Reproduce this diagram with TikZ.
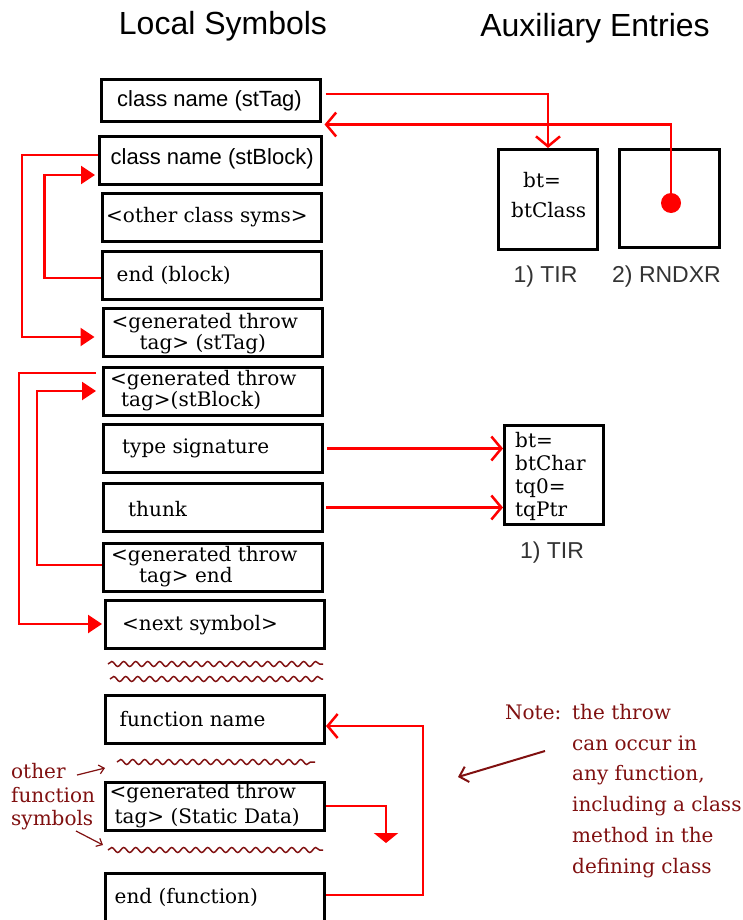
\documentclass[tikz,border=0pt]{standalone}
\usepackage{fontspec}
\setmainfont{DejaVu Serif}
\setsansfont{Liberation Sans}
\usetikzlibrary{arrows.meta,decorations.pathmorphing}

\definecolor{linkred}{RGB}{255,0,0}
\definecolor{notered}{RGB}{128,16,16}

\tikzset{
  symbox/.style={draw, line width=3pt, minimum width=219pt, minimum height=48pt, inner sep=0pt},
  auxbox/.style={draw, line width=3pt, minimum width=99pt, minimum height=99pt, inner sep=0pt},
  symtext/.style={anchor=west, inner sep=0pt, align=left, font=\fontsize{20}{21}\selectfont},
  sanstext/.style={anchor=west, inner sep=0pt, font=\sffamily\fontsize{22}{24}\selectfont},
  auxlabel/.style={inner sep=0pt, text=black!80, font=\sffamily\fontsize{23}{26}\selectfont},
  heading/.style={inner sep=0pt, font=\sffamily\fontsize{32}{36}\selectfont},
  redlink/.style={draw=linkred, line width=2.5pt},
  backlink/.style={redlink, -{Triangle[length=14pt,width=18pt]}},
  ptrlink/.style={redlink, -{Straight Barb[length=10pt,width=24pt]}},
  annot/.style={inner sep=0pt, align=left, text=notered, font=\fontsize{20}{23.5}\selectfont},
  squiggle/.style={draw=notered, line width=1.5pt, decorate,
    decoration={snake, segment length=12pt, amplitude=2.5pt}},
}

\begin{document}
\begin{tikzpicture}[x=1pt,y=-1pt]
  \useasboundingbox (0,0) rectangle (743,920);

  \node[heading] (loc) at (223,26) {Local Symbols};
  \node[heading] (aux) at (595,28) {Auxiliary Entries};

  % local symbol table
  \node[symbox, minimum height=42pt] (tag) at (210.5,100.5) {};
  \node[symbox, minimum width=222pt] (blk) at (210.5,160.5) {};
  \node[symbox] (other) at (211.5,217.5) {};
  \node[symbox] (endblk) at (211.5,275.5) {};
  \node[symbox] (gtag) at (212.5,332.5) {};
  \node[symbox] (gblk) at (213,391) {};
  \node[symbox] (sig) at (213,448.5) {};
  \node[symbox] (thunk) at (213,507.5) {};
  \node[symbox] (gend) at (213,567) {};
  \node[symbox] (next) at (214.5,624) {};
  \node[symbox] (fname) at (215,719) {};
  \node[symbox] (gdata) at (215,806) {};
  \node[symbox] (endfn) at (215,897.5) {};

  \node[sanstext] (tagtxt) at ([xshift=17.5pt]tag.west) {class name (stTag)};
  \node[sanstext] (blktxt) at ([xshift=12.5pt,yshift=2pt]blk.west) {class name (stBlock)};
  \node[symtext] (othertxt) at ([xshift=5.5pt]other.west) {<other class syms>};
  \node[symtext] (endblktxt) at ([xshift=16pt]endblk.west) {end (block)};
  \node[symtext] (gtagtxt) at ([xshift=10pt,yshift=-1pt]gtag.west) {<generated throw\\\hspace*{28pt}tag> (stTag)};
  \node[symtext] (gblktxt) at ([xshift=8pt]gblk.west) {<generated throw\\\hspace*{11pt}tag>(stBlock)};
  \node[symtext] (sigtxt) at ([xshift=20pt]sig.west) {type signature};
  \node[symtext] (thunktxt) at ([xshift=26pt,yshift=-1.5pt]thunk.west) {thunk};
  \node[symtext] (gendtxt) at ([xshift=9pt]gend.west) {<generated throw\\\hspace*{28pt}tag> end};
  \node[symtext] (nexttxt) at ([xshift=18.5pt,yshift=-1pt]next.west) {<next symbol>};
  \node[symtext] (fnametxt) at ([xshift=15.5pt]fname.west) {function name};
  \node[symtext, font=\fontsize{20}{25}\selectfont] (gdatatxt) at ([xshift=5.5pt]gdata.west) {<generated throw\\\hspace*{5pt}tag> (Static Data)};
  \node[symtext] (endfntxt) at ([xshift=10.5pt]endfn.west) {end (function)};

  % auxiliary entries
  \node[auxbox, minimum height=100pt] (tir) at (548,199.5) {};
  \node[auxbox, minimum width=100pt, minimum height=98pt] (rndx) at (669.5,198.5) {};
  \node[symtext, font=\fontsize{20}{30}\selectfont] (tirtxt) at (511,195) {\hspace*{12pt}bt=\\btClass};
  \node[circle, fill=linkred, minimum size=20pt, inner sep=0pt] (dot) at (671,203) {};
  \node[auxlabel] (tirlbl) at (545.5,277) {1) TIR};
  \node[auxlabel] (rndxlbl) at (666.5,277) {2) RNDXR};

  \node[auxbox] (tir2) at (554,475) {};
  \node[symtext, font=\fontsize{20}{23}\selectfont] (tir2txt) at (515,476) {bt=\\btChar\\tq0=\\tqPtr};
  \node[auxlabel] (tir2lbl) at (552,553) {1) TIR};

  % pointers out to the aux table and back
  \draw[ptrlink, shorten <=4pt] ([yshift=6.5pt]tag.east) -| (tir.north);
  \draw[ptrlink] (dot.center) |- ([shift={(3,1.5)}]tag.south east);
  \draw[ptrlink, shorten <=3pt] (sig.east) -- (sig.east -| tir2.west);
  \draw[ptrlink, shorten <=2pt] (thunk.east) -- (thunk.east -| tir2.west);

  % block start/end links
  \draw[backlink, shorten >=7pt] ([yshift=5.5pt]blk.west) -- ++(-76,0) |- ([yshift=-4.5pt]gtag.west);
  \draw[backlink, shorten >=3pt] ([yshift=-2.5pt]endblk.west) -- ++(-56,0) |- ([yshift=-14.5pt]blk.west);
  \draw[backlink, shorten <=6pt, shorten >=1.5pt] ([yshift=18pt]gblk.west) -- ++(-83,0) |- (next.west);
  \draw[backlink, shorten >=6pt] ([yshift=2pt]gend.west) -- ++(-65,0) |- (gblk.west);

  % function part
  \draw[ptrlink] ([yshift=2.5pt]endfn.east) -- ++(97,0) |- ([yshift=-7pt]fname.east);
  \draw[redlink, -{Triangle[length=10pt,width=24pt]}] (gdata.east) -- ++(60,0) -- ++(0,37);

  \draw[squiggle] (108,664) -- (323,664);
  \draw[squiggle] (110,679) -- (323,679);
  \draw[squiggle] (117,762) -- (315,762);
  \draw[squiggle] (108,850) -- (323,850);

  % remarks
  \node[annot, anchor=west] (others) at (11,797) {other\\function\\symbols};
  \coordinate (otherfrom) at (77,775);
  \coordinate (otherto) at (105,768);
  \coordinate (symfrom) at (76,831);
  \coordinate (symto) at (103,845);
  \draw[notered, line width=1.2pt, -{Straight Barb[length=5pt,width=9pt]}] (otherfrom) -- (otherto);
  \draw[notered, line width=1.2pt, -{Straight Barb[length=5pt,width=9pt]}] (symfrom) -- (symto);

  \node[annot, anchor=west, font=\fontsize{20}{30.8}\selectfont] (note) at (572,791)
    {the throw\\can occur in\\any function,\\including a class\\method in the\\defining class};
  \node[annot, anchor=base west] (notelbl) at (505,719) {Note:};
  \coordinate (notetail) at (545,751);
  \coordinate (notetip) at (458,777);
  \draw[notered, line width=2pt, -{Straight Barb[length=8pt,width=16pt]}] (notetail) -- (notetip);
\end{tikzpicture}
\end{document}
